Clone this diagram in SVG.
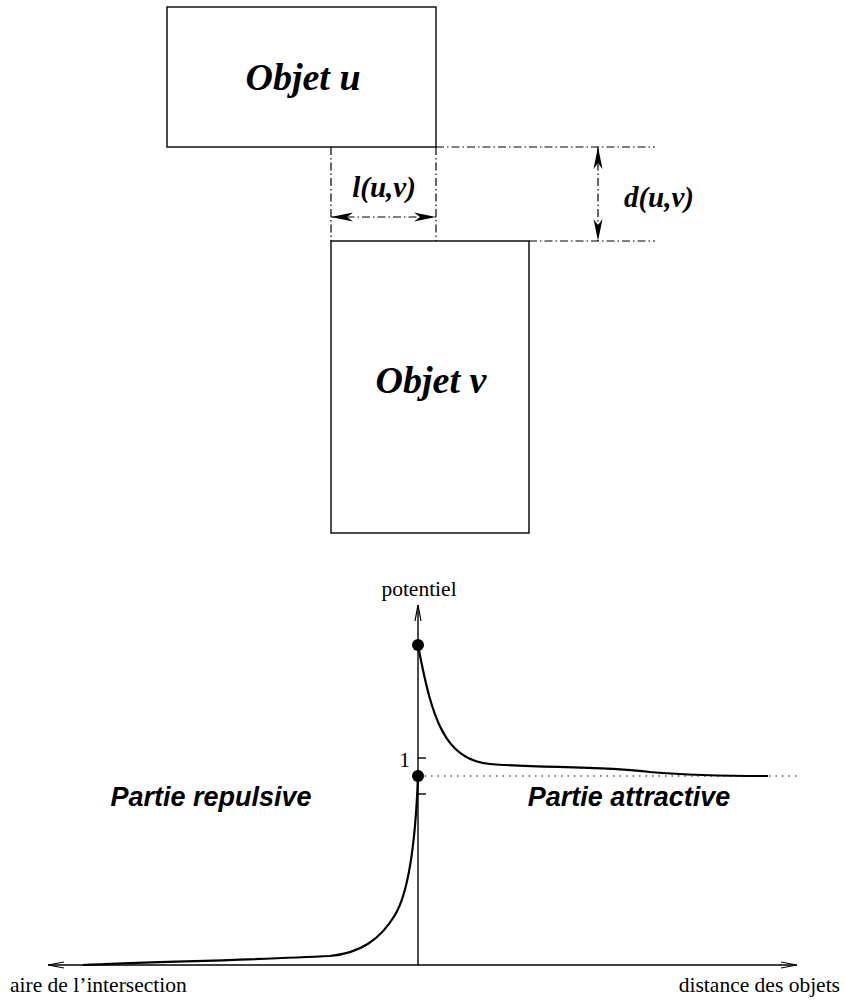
<svg xmlns="http://www.w3.org/2000/svg" width="845" height="1001" viewBox="0 0 845 1001">
<style>
.box{fill:none;stroke:#000;stroke-width:1.4}
.dd{fill:none;stroke:#000;stroke-width:1.2;stroke-dasharray:8 3 1.5 3}
.ax{fill:none;stroke:#000;stroke-width:1.4}
.crv{fill:none;stroke:#000;stroke-width:2.2}
.big{font-family:"Liberation Serif","Times New Roman",serif;font-weight:bold;font-style:italic;font-size:38px}
.lab{font-family:"Liberation Serif","Times New Roman",serif;font-weight:bold;font-style:italic;font-size:29px}
.sans{font-family:"Liberation Sans",Arial,sans-serif;font-weight:bold;font-style:italic;font-size:27px}
.txt{font-family:"Liberation Serif","Times New Roman",serif;font-size:21.5px}
</style>
<defs>
<marker id="oa" viewBox="0 0 16 8" refX="16" refY="4" markerWidth="16" markerHeight="8" markerUnits="userSpaceOnUse" orient="auto-start-reverse">
<path d="M0,1 L16,4 L0,7" fill="none" stroke="#000" stroke-width="1.2"/>
</marker>
</defs>

<g id="objet-u">
<rect class="box" x="167" y="7" width="269" height="140"/>
<text class="big" x="303" y="90" text-anchor="middle">Objet u</text>
</g>
<g id="objet-v">
<rect class="box" x="331" y="241" width="198" height="292"/>
<text class="big" x="431" y="393" text-anchor="middle">Objet v</text>
</g>

<g id="connectors">
<line class="dd" x1="331" y1="147" x2="331" y2="241"/>
<line class="dd" x1="436" y1="147" x2="436" y2="241"/>
<line class="dd" x1="436" y1="147" x2="655" y2="147"/>
<line class="dd" x1="529" y1="241" x2="655" y2="241"/>
<line class="dd" x1="331" y1="217" x2="436" y2="217"/>
<path d="M331,217 L353,212.5 L347,217 L353,221.5 Z" fill="#000"/>
<path d="M436,217 L414,212.5 L420,217 L414,221.5 Z" fill="#000"/>
<line class="dd" x1="598" y1="147" x2="598" y2="241"/>
<path d="M598,147 L593.5,169 L598,163 L602.5,169 Z" fill="#000"/>
<path d="M598,241 L593.5,219 L598,225 L602.5,219 Z" fill="#000"/>
</g>
<g id="labels">
<text class="lab" x="384" y="197" text-anchor="middle">l(u,v)</text>
<text class="lab" x="659" y="207" text-anchor="middle">d(u,v)</text>
</g>

<g id="graph">
<line class="ax" x1="418" y1="965" x2="418" y2="605" marker-end="url(#oa)"/>
<line class="ax" x1="48" y1="965" x2="797" y2="965" marker-start="url(#oa)" marker-end="url(#oa)"/>
<line x1="418" y1="776" x2="797" y2="776" stroke="#000" stroke-width="1" stroke-dasharray="1.5 5"/>
<line class="ax" x1="418" y1="758" x2="426" y2="758"/>
<line class="ax" x1="418" y1="794" x2="426" y2="794"/>
<path class="crv" d="M418,645 C432,720 445,760 490,764 C540,768 600,766 650,772 C700,776 740,776 768,776"/>
<path class="crv" d="M418,776 C416,830 410,890 395,915 C380,940 360,953 330,956 C250,960 150,962 83,965"/>
<circle cx="418" cy="645" r="6" fill="#000"/>
<circle cx="418" cy="776" r="6" fill="#000"/>
<text class="txt" x="410" y="767" text-anchor="end">1</text>
<text class="txt" x="419" y="596" text-anchor="middle">potentiel</text>
<text class="sans" x="211" y="806" text-anchor="middle">Partie repulsive</text>
<text class="sans" x="629" y="806" text-anchor="middle">Partie attractive</text>
<text class="txt" x="10" y="992">aire de l’intersection</text>
<text class="txt" x="840" y="992" text-anchor="end">distance des objets</text>
</g>
</svg>
